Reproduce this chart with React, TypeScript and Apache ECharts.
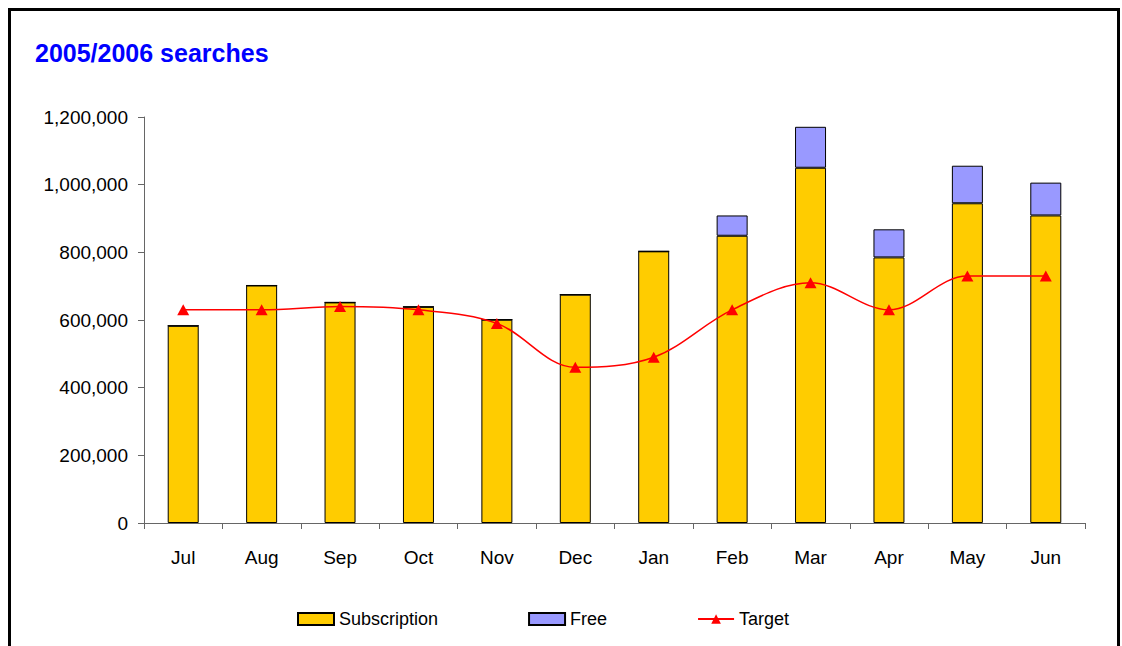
import React, { useEffect, useRef } from "react";
import * as echarts from "echarts";

const months = ["Jul", "Aug", "Sep", "Oct", "Nov", "Dec", "Jan", "Feb", "Mar", "Apr", "May", "Jun"];
const subscription = [583000, 702000, 652000, 639000, 601000, 675000, 803000, 849000, 1050000, 785000, 945000, 909000];
const free = [0, 0, 0, 0, 0, 0, 0, 60000, 121000, 83000, 111000, 97000];
const target = [630000, 630000, 640000, 630000, 590000, 460000, 490000, 630000, 710000, 630000, 730000, 730000];
const yTicks = [0, 200000, 400000, 600000, 800000, 1000000, 1200000];

const FONT = "'Liberation Sans', Arial, sans-serif";

export default function App() {
  const ref = useRef<HTMLDivElement>(null);
  useEffect(() => {
    if (!ref.current) return;
    const chart = echarts.init(ref.current, undefined, { renderer: "svg" });
    const fmt = (v: number) => v.toLocaleString("en-US");
    chart.setOption({
      animation: false,
      backgroundColor: "#ffffff",
      textStyle: { fontFamily: FONT },
      title: {
        text: "2005/2006 searches",
        left: 35,
        top: 40,
        padding: 0,
        textStyle: { color: "#0000ff", fontSize: 25, fontWeight: "bold", fontFamily: FONT },
      },
      graphic: [
        {
          type: "rect",
          shape: { x: 9.5, y: 9.5, width: 1109, height: 700 },
          style: { fill: "none", stroke: "#000", lineWidth: 3 },
          silent: true,
        },
      ],
      legend: {
        left: 297,
        top: 610,
        padding: 0,
        itemWidth: 36,
        itemHeight: 12,
        itemGap: 90,
        textStyle: { fontSize: 18, color: "#000", fontFamily: FONT },
        data: [
          { name: "Subscription", icon: "rect" },
          { name: "Free", icon: "rect" },
          { name: "Target" },
        ],
      },
      grid: { left: 144, right: 37, top: 117, bottom: 123, containLabel: false },
      xAxis: {
        type: "category",
        data: months,
        axisLine: { lineStyle: { color: "#666", width: 1 } },
        axisTick: { show: true, length: 6, lineStyle: { color: "#666" } },
        axisLabel: { color: "#000", fontSize: 19, margin: 25, fontFamily: FONT },
      },
      yAxis: {
        type: "value",
        min: yTicks[0],
        max: yTicks[yTicks.length - 1],
        interval: 200000,
        splitLine: { show: false },
        axisLine: { show: true, lineStyle: { color: "#666", width: 1 } },
        axisTick: { show: true, length: 6, lineStyle: { color: "#666" } },
        axisLabel: { color: "#000", fontSize: 19, margin: 16, fontFamily: FONT, formatter: fmt },
      },
      series: [
        {
          name: "Subscription",
          type: "bar",
          stack: "s",
          barWidth: 31,
          data: subscription,
          itemStyle: { color: "#FFCC00", borderColor: "#000", borderWidth: 1 },
        },
        {
          name: "Free",
          type: "bar",
          stack: "s",
          barWidth: 31,
          data: free,
          itemStyle: { color: "#9999FF", borderColor: "#000", borderWidth: 1 },
        },
        {
          name: "Target",
          type: "line",
          data: target,
          smooth: 0.35,
          symbol: "triangle",
          symbolSize: [12, 11],
          lineStyle: { color: "#FF0000", width: 1.5 },
          itemStyle: { color: "#FF0000" },
        },
      ],
    });
    return () => chart.dispose();
  }, []);
  return (
    <div
      ref={ref}
      style={{ position: "absolute", left: 0, top: 0, width: 1122, height: 646 }}
    />
  );
}
